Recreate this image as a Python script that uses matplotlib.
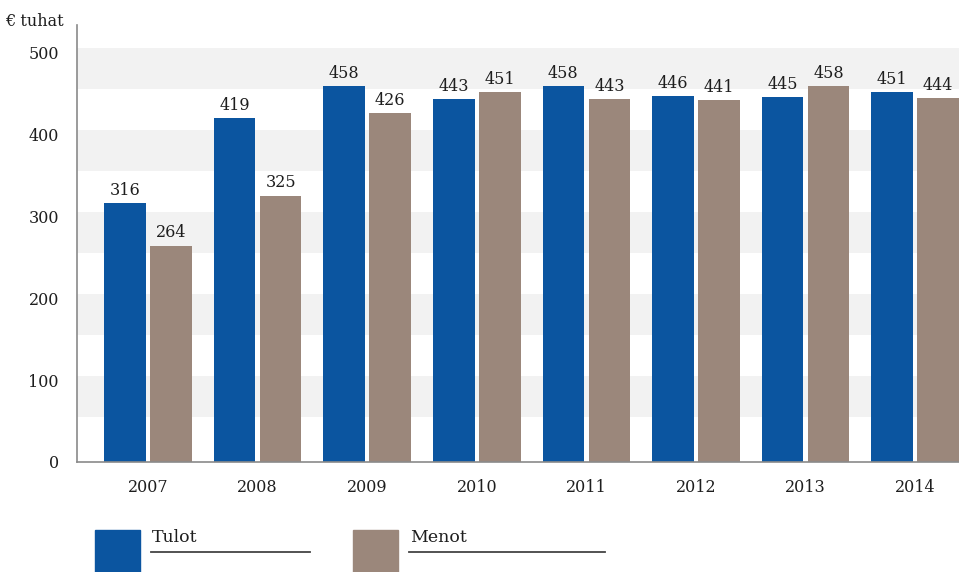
import matplotlib
matplotlib.use("Agg")
import matplotlib.pyplot as plt
import numpy as np
from matplotlib.patches import Rectangle
from matplotlib.lines import Line2D

years = ["2007", "2008", "2009", "2010", "2011", "2012", "2013", "2014"]
tulot = [316, 419, 458, 443, 458, 446, 445, 451]
menot = [264, 325, 426, 451, 443, 441, 458, 444]
series_names = ["Tulot", "Menot"]
yticks = [0, 100, 200, 300, 400, 500]
unit_label = "€ tuhat"

BLUE = "#0b55a0"
BROWN = "#9b877b"
BAND = "#f2f2f2"
AXIS = "#8a8a8a"
FONT = "DejaVu Serif"
TXT = "#1e1e1e"
FS = 11.5

W, H = 959, 572
fig = plt.figure(figsize=(W / 100, H / 100), dpi=100)
left, right, bottom, top = 77, 959, 462, 25
ax = fig.add_axes([left / W, (H - bottom) / H, (right - left) / W, (bottom - top) / H])

x = np.arange(len(years))
bw = 0.38
off = 0.21

# alternating background bands
for t in yticks[1:]:
    ax.axhspan(t - 45, t + 5, color=BAND, zorder=0, lw=0)

b1 = ax.bar(x - off, tulot, bw, color=BLUE, zorder=2)
b2 = ax.bar(x + off, menot, bw, color=BROWN, zorder=2)

for bars, vals in ((b1, tulot), (b2, menot)):
    for r, v in zip(bars, vals):
        ax.annotate(str(v), (r.get_x() + r.get_width() / 2, v),
                    xytext=(0, 3), textcoords="offset points",
                    ha="center", va="bottom", fontsize=FS,
                    family=FONT, color=TXT, zorder=3)

ax.set_xlim(-0.648, 7.40)
ax.set_ylim(0, 533)
ax.set_yticks(yticks)
ax.set_yticklabels([str(t) for t in yticks], family=FONT, fontsize=FS, color=TXT)
ax.set_xticks(x)
ax.set_xticklabels(years, family=FONT, fontsize=FS, color=TXT)
ax.tick_params(axis="both", length=0)
ax.tick_params(axis="y", pad=13)
ax.tick_params(axis="x", pad=12)

for s in ("top", "right"):
    ax.spines[s].set_visible(False)
for s in ("left", "bottom"):
    ax.spines[s].set_color(AXIS)
    ax.spines[s].set_linewidth(1.2)

fig.text(5 / W, 1 - 22 / H, unit_label, family=FONT, fontsize=FS,
         ha="left", va="center", color=TXT)

# legend drawn manually
def legend_item(x0, color, label, line_end):
    fig.patches.append(Rectangle((x0 / W, 0), 45 / W, (H - 530) / H,
                                 transform=fig.transFigure, color=color, figure=fig))
    fig.text((x0 + 57) / W, 1 - 537 / H, label, family=FONT, fontsize=12.5,
             ha="left", va="center", color=TXT)
    fig.lines.append(Line2D([(x0 + 56) / W, line_end / W], [1 - 552 / H, 1 - 552 / H],
                            transform=fig.transFigure, color="#444444", lw=1.3, figure=fig))

legend_item(95, BLUE, series_names[0], 310)
legend_item(353, BROWN, series_names[1], 605)

fig.savefig("out.png", dpi=100)
